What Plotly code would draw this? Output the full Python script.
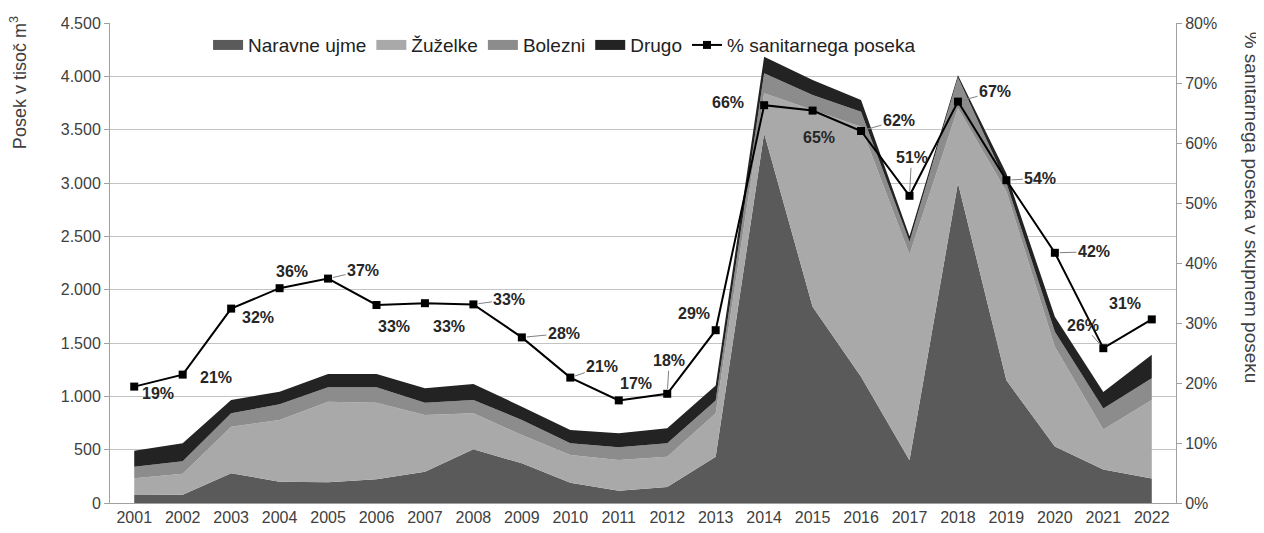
import plotly.graph_objects as go

# Sanitarni posek po vzrokih (tisoč m3) in delež sanitarnega poseka
years = list(range(2001, 2023))
naravne_ujme = [75, 78, 280, 200, 195, 222, 294, 503, 372, 190, 115, 150,
                434, 3466, 1840, 1184, 400, 3000, 1150, 530, 315, 230]
zuzelke = [156, 197, 436, 578, 755, 719, 531, 338, 265, 260, 288, 284,
           407, 375, 1844, 2344, 1930, 700, 1770, 935, 375, 735]
bolezni = [109, 116, 125, 147, 134, 143, 116, 125, 141, 110, 119, 126,
           120, 187, 141, 141, 120, 290, 80, 140, 195, 205]
drugo = [150, 170, 125, 119, 125, 125, 134, 150, 125, 124, 131, 140,
         140, 156, 141, 109, 50, 20, 90, 140, 155, 220]
delez_sanitarnega = [19.4, 21.4, 32.4, 35.8, 37.4, 33.0, 33.3, 33.1, 27.6, 20.9, 17.1,
                     18.2, 28.8, 66.3, 65.4, 62.0, 51.2, 66.9, 53.8, 41.7, 25.8, 30.6]

COLORS = {
    "naravne": "#5a5a5a",
    "zuzelke": "#a9a9a9",
    "bolezni": "#8c8c8c",
    "drugo": "#232323",
    "line": "#000000",
    "grid": "#c4c4c4",
    "axis": "#a0a0a0",
    "text": "#404040",
}
FONT = "Liberation Sans"

fig = go.Figure()

areas = [
    ("Naravne ujme", naravne_ujme, COLORS["naravne"]),
    ("Žuželke", zuzelke, COLORS["zuzelke"]),
    ("Bolezni", bolezni, COLORS["bolezni"]),
    ("Drugo", drugo, COLORS["drugo"]),
]
for name, values, color in areas:
    fig.add_trace(go.Scatter(
        x=years, y=values, name=name,
        stackgroup="posek", mode="lines",
        line=dict(width=0, color=color),
        fillcolor=color, showlegend=False,
    ))

# legend-only entries so the swatches are chunky rectangles like in Excel
for name, _, color in areas:
    fig.add_trace(go.Scatter(
        x=[None], y=[None], name=name, mode="lines",
        line=dict(color=color, width=12),
    ))

fig.add_trace(go.Scatter(
    x=years, y=[v / 100 for v in delez_sanitarnega],
    name="% sanitarnega poseka", yaxis="y2",
    mode="lines+markers",
    line=dict(color=COLORS["line"], width=2),
    marker=dict(symbol="square", size=8, color=COLORS["line"]),
))

# label offsets (px from marker to label centre) and whether a leader line is drawn
label_offsets = [
    (24, 7, False), (33, 3, False), (27, 9, False), (12, -17, False),
    (35, -8, True), (17, 21, False), (24, 23, False), (36, -5, True),
    (42, -4, True), (32, -11, True), (17, -17, False), (2, -33, True),
    (-22, -17, False), (-36, -3, False), (6, 27, False), (38, -11, True),
    (2, -38, True), (37, -10, True), (34, -2, True), (39, -1, True),
    (-20, -23, True), (-27, -16, False),
]
for yr, val, (ax, ay, leader) in zip(years, delez_sanitarnega, label_offsets):
    fig.add_annotation(
        x=yr, y=val / 100, yref="y2",
        text=f"{round(val)}%",
        showarrow=True, ax=ax, ay=ay,
        arrowhead=0, arrowwidth=1, standoff=5,
        arrowcolor="#808080" if leader else "rgba(0,0,0,0)",
        font=dict(family=FONT, size=16, color="#262626", weight="bold"),
    )

# axis titles sit towards the top of each side, like the original
fig.add_annotation(
    xref="paper", yref="paper", x=-0.0856, y=1.019,
    text="Posek v tisoč m<sup>3</sup>", textangle=-90,
    showarrow=False, xanchor="center", yanchor="top",
    font=dict(family=FONT, size=18, color=COLORS["text"]),
)
fig.add_annotation(
    xref="paper", yref="paper", x=1.0705, y=0.615,
    text="% sanitarnega poseka v skupnem poseku", textangle=90,
    showarrow=False, xanchor="center", yanchor="middle",
    font=dict(family=FONT, size=19, color=COLORS["text"]),
)

fig.update_layout(
    width=1264, height=533,
    separators=",.",
    paper_bgcolor="white", plot_bgcolor="white",
    margin=dict(l=102, r=96, t=15, b=38),
    font=dict(family=FONT, size=16, color=COLORS["text"]),
    showlegend=True,
    legend=dict(
        orientation="h", traceorder="normal",
        x=0.092, y=0.954, xanchor="left", yanchor="middle",
        bgcolor="rgba(0,0,0,0)",
        font=dict(family=FONT, size=19, color="#222222"),
    ),
    xaxis=dict(
        range=[2000.5, 2022.5], tickvals=years,
        showgrid=False, showline=True, linecolor=COLORS["axis"],
        ticks="", tickfont=dict(size=16, color=COLORS["text"]),
        zeroline=False, automargin=False,
    ),
    yaxis=dict(
        range=[0, 4500], dtick=500, tickformat=",.0f",
        showgrid=True, gridcolor=COLORS["grid"], gridwidth=1,
        showline=True, linecolor=COLORS["axis"],
        ticks="outside", ticklen=5, tickcolor=COLORS["axis"],
        tickfont=dict(size=16, color=COLORS["text"]),
        zeroline=False, automargin=False,
    ),
    yaxis2=dict(
        range=[0, 0.8], dtick=0.1, tickformat=".0%",
        overlaying="y", side="right",
        showgrid=False, showline=True, linecolor=COLORS["axis"],
        ticks="outside", ticklen=5, tickcolor=COLORS["axis"],
        tickfont=dict(size=16, color=COLORS["text"]),
        zeroline=False, automargin=False,
    ),
)

fig.write_html("out.html")
